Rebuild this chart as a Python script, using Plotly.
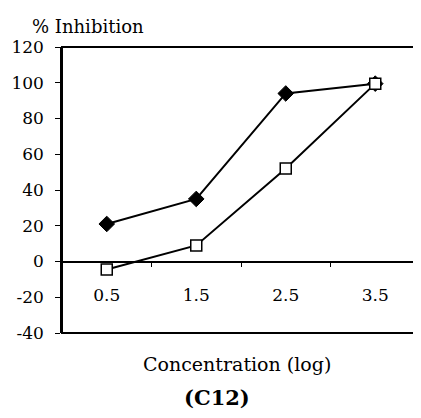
import plotly.graph_objects as go

categories = ["0.5", "1.5", "2.5", "3.5"]
series_filled = [21, 35, 94, 99.5]
series_open = [-4.5, 9, 52, 99.5]
y_ticks = [-40, -20, 0, 20, 40, 60, 80, 100, 120]

FONT = "DejaVu Serif"

fig = go.Figure()
fig.add_trace(go.Scatter(
    x=categories, y=series_filled, mode="lines+markers",
    line=dict(color="black", width=2),
    marker=dict(symbol="diamond", size=12, color="black", line=dict(color="black", width=1)),
    showlegend=False, cliponaxis=False))
fig.add_trace(go.Scatter(
    x=categories, y=series_open, mode="lines+markers",
    line=dict(color="black", width=2),
    marker=dict(symbol="square", size=11, color="white", line=dict(color="black", width=1.5)),
    showlegend=False, cliponaxis=False))

# page body has an 8px default margin, so the figure is sized/offset to compensate
fig.update_layout(
    width=413, height=410,
    margin=dict(l=54, r=1, t=39, b=85),
    paper_bgcolor="white", plot_bgcolor="white",
    font=dict(family=FONT, color="black", size=16),
    xaxis=dict(
        type="category", tickson="boundaries", anchor="free", position=0.25,
        showline=True, linecolor="black", linewidth=1.5,
        ticks="outside", ticklen=5, tickcolor="black", tickwidth=1,
        ticklabelstandoff=18, showgrid=False, zeroline=False, automargin=False,
        tickfont=dict(family=FONT, size=17),
        range=[-0.5, 3.5],
    ),
    yaxis=dict(
        range=[-40, 120], tickvals=y_ticks, ticktext=[str(v) for v in y_ticks],
        showline=True, linecolor="black", linewidth=1.5,
        ticks="outside", ticklen=5, tickcolor="black", tickwidth=1,
        ticklabelstandoff=8, showgrid=False, zeroline=False, automargin=False,
        tickfont=dict(family=FONT, size=17),
    ),
    shapes=[dict(type="rect", xref="paper", yref="paper", x0=0, x1=1, y0=0, y1=1,
                 line=dict(color="black", width=2), fillcolor="rgba(0,0,0,0)", layer="above")],
    annotations=[
        dict(text="% Inhibition", xref="paper", yref="paper", x=-0.089, y=1.0,
             xanchor="left", yanchor="middle", yshift=21, showarrow=False,
             font=dict(family=FONT, size=18)),
        dict(text="Concentration (log)", xref="paper", yref="paper", x=0.49, y=0,
             xanchor="center", yanchor="middle", yshift=-31, showarrow=False,
             font=dict(family=FONT, size=19)),
        dict(text="<b>(C12)</b>", xref="paper", yref="paper", x=0.433, y=0,
             xanchor="center", yanchor="middle", yshift=-64, showarrow=False,
             font=dict(family=FONT, size=21)),
    ],
)

fig.write_html("out.html")
